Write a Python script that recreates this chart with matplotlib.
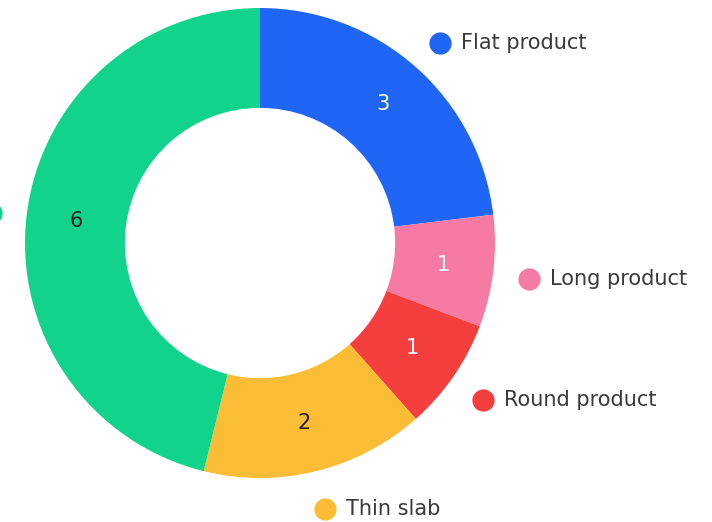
import numpy as np
import matplotlib
matplotlib.use("Agg")
import matplotlib.pyplot as plt

categories = ["Flat product", "Long product", "Round product", "Thin slab", ""]
values = [3, 1, 1, 2, 6]
colors = ["#1f66f6", "#f67aa4", "#f53e3e", "#fbbd35", "#12d38c"]
value_colors = ["white", "white", "white", "#222222", "#222222"]

plt.rcParams["font.family"] = ["DejaVu Sans"]

fig = plt.figure(figsize=(7.12, 5.22), dpi=100)
ax = fig.add_axes([0, 0, 1, 1])

ring_width = 0.425
wedges, _ = ax.pie(values, colors=colors, startangle=90, counterclock=False,
                   radius=1.0, wedgeprops=dict(width=ring_width, linewidth=0))

total = sum(values)
mid_r = 1.0 - ring_width / 2
label_r = 1.155
start = 90.0
for name, v, c, tc in zip(categories, values, colors, value_colors):
    span = v / total * 360.0
    mid = np.deg2rad(start - span / 2)
    start -= span
    # value inside the ring
    ax.text(mid_r * np.cos(mid), mid_r * np.sin(mid), str(v), ha="center",
            va="center", fontsize=15, color=tc)
    # dot marker and category name outside the ring
    dx, dy = label_r * np.cos(mid), label_r * np.sin(mid) - 0.012
    ax.plot(dx, dy, "o", markersize=16, color=c, markeredgewidth=0, clip_on=False)
    if name:
        ax.text(dx + 0.088, dy, name, ha="left", va="center", fontsize=15,
                color="#3a3a3a")

ax.set_aspect("equal")
ax.set_xlim(-260 / 235, (712 - 260) / 235)
ax.set_ylim(-(522 - 243) / 235, 243 / 235)
ax.axis("off")

fig.savefig("out.png", dpi=100, facecolor="white")
